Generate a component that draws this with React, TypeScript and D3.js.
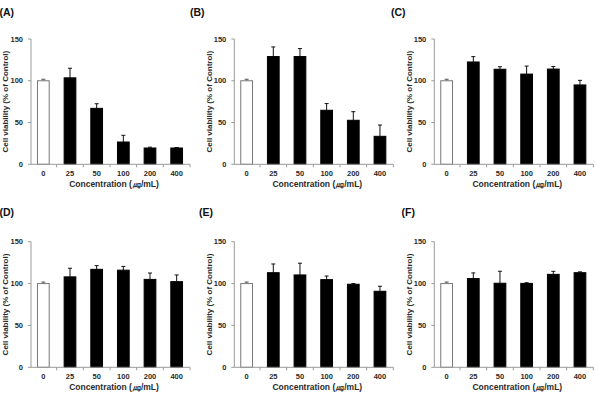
import React from "react";
import * as d3 from "d3";

// Concentrations tested (µg/mL) and y-axis ticks
const concentrations = ["0", "25", "50", "100", "200", "400"];
const yTicks = [0, 50, 100, 150];
const panelLabels = ["(A)", "(B)", "(C)", "(D)", "(E)", "(F)"];

// Mean cell viability (% of control) per panel
const meansA = [100, 103.5, 67, 26.7, 19.5, 19.5];
const meansB = [100, 129, 129, 64.7, 52.7, 33.5];
const meansC = [100, 122.5, 113.8, 108, 114, 95];
const meansD = [100, 108, 117, 116, 105, 102.3];
const meansE = [100, 113, 110.3, 104.7, 99.2, 90.8];
const meansF = [100, 106, 100.4, 100.2, 111, 113];

// Standard deviations (upper whisker length)
const errsA = [1.8, 11.5, 5.5, 8, 1, 0.6];
const errsB = [1.8, 11.5, 9.5, 8, 10.3, 13.5];
const errsC = [1.8, 6.4, 3, 9.6, 3, 5.5];
const errsD = [1.8, 10.3, 4.4, 4.5, 7.6, 8];
const errsE = [1.8, 10.4, 14, 4.3, 0.8, 6];
const errsF = [1.8, 6.7, 14.3, 0.8, 3.6, 1];

const allMeans = [meansA, meansB, meansC, meansD, meansE, meansF];
const allErrs = [errsA, errsB, errsC, errsD, errsE, errsF];

const W = 599;
const H = 394;
const axisXs = [31, 234.3, 434.3];
const rowBase = [164.3, 367.3];
const rowTop = [39, 241.7];
const labelPos = [
  [-0.5, 16],
  [190, 16],
  [391, 16],
  [-0.5, 216],
  [199, 216],
  [401.5, 216],
];

const font = "'Liberation Sans', Arial, sans-serif";
const axisColor = "#9a9a9a";
const textColor = "#2a2a2a";

function Panel({ idx }: { idx: number }) {
  const col = idx % 3;
  const row = Math.floor(idx / 3);
  const x0 = axisXs[col] - 1;
  const x = d3
    .scaleBand<string>()
    .domain(concentrations)
    .range([x0, x0 + 160])
    .paddingInner(0.56)
    .paddingOuter(0.28);
  const y = d3.scaleLinear().domain([0, 150]).range([rowBase[row], rowTop[row]]);
  const axisX = axisXs[col];
  const base = y(0);
  const means = allMeans[idx];
  const errs = allErrs[idx];
  const step = x.step();
  const bw = x.bandwidth();
  const boundaries = d3.range(1, concentrations.length + 1).map((i) => x0 + i * step);

  return (
    <g>
      <text
        x={labelPos[idx][0]}
        y={labelPos[idx][1]}
        fontFamily={font}
        fontWeight="bold"
        fontSize={10.5}
        fill="#111"
      >
        {panelLabels[idx]}
      </text>

      {/* bars */}
      {concentrations.map((c, i) => {
        const bx = x(c) as number;
        const top = y(means[i]);
        const errTop = y(means[i] + errs[i]);
        const cx = bx + bw / 2;
        const isControl = i === 0;
        return (
          <g key={c}>
            <line x1={cx} x2={cx} y1={top} y2={errTop} stroke={isControl ? "#555" : "#111"} strokeWidth={1} />
            <line x1={cx - 2} x2={cx + 2} y1={errTop} y2={errTop} stroke={isControl ? "#555" : "#111"} strokeWidth={1} />
            <rect
              x={bx}
              y={top}
              width={bw}
              height={base - top}
              fill={isControl ? "#fff" : "#000"}
              stroke={isControl ? "#777" : "#000"}
              strokeWidth={1}
            />
          </g>
        );
      })}

      {/* y axis */}
      <line x1={axisX} x2={axisX} y1={y(150)} y2={base} stroke={axisColor} strokeWidth={1} />
      {yTicks.map((t) => (
        <g key={t}>
          <line x1={axisX - 3} x2={axisX} y1={y(t)} y2={y(t)} stroke={axisColor} strokeWidth={1} />
          <text
            x={axisX - 8}
            y={y(t)}
            dy="0.35em"
            textAnchor="end"
            fontFamily={font}
            fontWeight="bold"
            fontSize={7.5}
            fill={textColor}
          >
            {t}
          </text>
        </g>
      ))}

      {/* x axis */}
      <line x1={axisX} x2={x0 + 160} y1={base} y2={base} stroke={axisColor} strokeWidth={1} />
      {boundaries.map((b, i) => (
        <line key={i} x1={b} x2={b} y1={base} y2={base + 3} stroke={axisColor} strokeWidth={1} />
      ))}
      {concentrations.map((c) => (
        <text
          key={c}
          x={(x(c) as number) + bw / 2}
          y={base + 12}
          textAnchor="middle"
          fontFamily={font}
          fontWeight="bold"
          fontSize={7.5}
          fill={textColor}
        >
          {c}
        </text>
      ))}

      <text
        x={x0 + 84}
        y={base + 22.5}
        textAnchor="middle"
        fontFamily={font}
        fontWeight="bold"
        fontSize={8.5}
        fill={textColor}
      >
        Concentration (㎍/mL)
      </text>

      <text
        transform={`translate(${axisX - 25.5},${(y(0) + y(150)) / 2 + 0}) rotate(-90)`}
        textAnchor="middle"
        dy="0.35em"
        fontFamily={font}
        fontWeight="bold"
        fontSize={8}
        fill={textColor}
      >
        Cell viability (% of Control)
      </text>
    </g>
  );
}

export default function App() {
  return (
    <svg
      width={W}
      height={H}
      viewBox={`0 0 ${W} ${H}`}
      style={{ position: "absolute", left: 0, top: 0, background: "#fff" }}
    >
      <rect width={W} height={H} fill="#fff" />
      {panelLabels.map((_, i) => (
        <Panel key={i} idx={i} />
      ))}
    </svg>
  );
}
